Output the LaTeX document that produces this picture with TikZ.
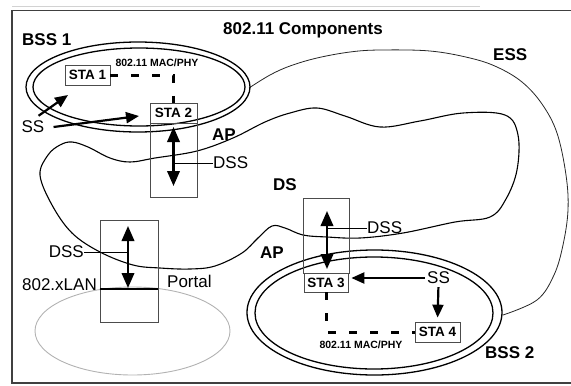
\documentclass[tikz,border=0pt]{standalone}
\usepackage{fontspec}
\setmainfont{Liberation Sans}
\usetikzlibrary{arrows.meta}
\tikzset{
  biglbl/.style={font=\fontsize{17}{19}\selectfont\bfseries, inner sep=0pt},
  lbl/.style={font=\fontsize{17}{19}\selectfont, inner sep=0pt},
  macphy/.style={font=\fontsize{10.5}{12}\selectfont\bfseries, inner sep=0pt},
  stabox/.style={draw=black!70, line width=0.7pt, minimum width=45pt, minimum height=20pt,
    inner sep=0pt, font=\fontsize{13.5}{15}\selectfont\bfseries},
  apbox/.style={draw=black!70, line width=0.7pt, minimum width=47pt, inner sep=0pt},
  bss/.style={line width=1.3pt},
  link/.style={line width=3pt, dash pattern=on 8pt off 13pt},
  tap/.style={line width=0.7pt},
  ssarrow/.style={line width=2.2pt, -{Triangle[length=13pt, width=11pt]}},
  dsarrow/.style={line width=2.2pt, {Triangle[length=15pt, width=12.5pt]}-{Triangle[length=15pt, width=12.5pt]}},
}
\begin{document}
\begin{tikzpicture}[x=1pt, y=-1pt]
  \useasboundingbox (0,0) rectangle (571,386);

  % frame
  \draw[gray!35, line width=1pt] (12,6.5) -- (480,6.5);
  \draw[black!75, line width=1.4pt] (571,10.5) -- (12,10.5) -- (12,383) -- (571,383);

  % 802.x LAN
  \draw[gray!60, line width=0.9pt] (132.5,331) ellipse [x radius=97.5, y radius=44];

  % distribution system
  \draw[line width=1.1pt] plot[smooth cycle, tension=0.6] coordinates {
    (40,175) (48,155) (60,145) (72,142) (88,147) (110,158) (130,162) (155,158)
    (197,151) (233,138) (265,122) (290,113) (317,108) (345,116) (380,127) (420,121)
    (463,113) (505,115) (518,135) (517,170) (506,199) (490,217) (455,222) (403,233)
    (360,238) (327,237) (303,235) (285,228) (272,226) (258,238) (242,253) (215,266)
    (190,269) (160,268) (133,265) (100,252) (72,233) (52,205)};

  % extended service set
  \draw[black!85, line width=0.8pt] plot[smooth, tension=0.6] coordinates {
    (249,88) (270,75) (290,66) (317,58) (350,52) (380,50) (430,51) (470,58)
    (497,67) (522,82) (542,104) (557,133) (566,175) (568,210) (563,245)
    (554,275) (537,300) (503,315)};

  % basic service sets
  \draw[bss] (138,87) ellipse [x radius=112, y radius=45];
  \draw[bss] (139,87) ellipse [x radius=106, y radius=39];
  \draw[bss] (374.5,312.5) ellipse [x radius=127.5, y radius=62.5];
  \draw[bss] (374,313) ellipse [x radius=119, y radius=56];

  % stations and access points
  \node[stabox] (sta1) at (87.5,75) {STA 1};
  \node[stabox, minimum width=47pt] (sta2) at (173.5,113) {STA 2};
  \node[apbox, minimum height=74pt] (ap1) at (173.5,160) {};
  \node[apbox, minimum width=46pt, minimum height=75pt] (ap3) at (326,235.5) {};
  \node[stabox, minimum width=44pt, minimum height=19pt] (sta3) at (326,282.5) {STA 3};
  \node[stabox] (sta4) at (437.5,332) {STA 4};
  \node[apbox, minimum width=58pt, minimum height=102pt] (portal) at (129,271) {};

  % MAC/PHY links
  \draw[link] (sta1.east) -- (sta1.east -| sta2.north) -- (sta2.north);
  \draw[link] (sta3.south) -- (sta3.south |- sta4.west) -- (sta4.west);
  \node[macphy] (mac1) at (157,63) {802.11 MAC/PHY};
  \node[macphy] (mac2) at (361,345) {802.11 MAC/PHY};

  % labels
  \node[biglbl] (title) at (303,30) {802.11 Components};
  \node[biglbl, anchor=west] (bss1) at (22,40) {BSS 1};
  \node[biglbl, anchor=west] (ess) at (493,55) {ESS};
  \node[biglbl, anchor=west] (aplbl1) at (212,135) {AP};
  \node[biglbl, anchor=west] (dslbl) at (273,185) {DS};
  \node[biglbl, anchor=west] (aplbl2) at (260,253) {AP};
  \node[biglbl, anchor=west] (bss2) at (485,353) {BSS 2};

  % station services
  \node[lbl] (ss1) at (33,127) {SS};
  \node[lbl] (ss2) at (438.5,278) {SS};
  \coordinate (sstip1) at (68,95);
  \coordinate (sstip2) at (139,116);
  \draw[ssarrow] ([xshift=-6pt, yshift=5pt]ss1.north east) -- (sstip1);
  \draw[ssarrow] ([xshift=9pt]ss1.east) -- (sstip2);
  \draw[ssarrow, shorten >=3pt] ([xshift=-2pt]ss2.west) -- (ss2.west -| sta3.east);
  \draw[ssarrow, shorten <=3pt, shorten >=4pt] (ss2.south) -- (sta4.north);

  % distribution system services
  \coordinate (dsa1) at (173.5,127);
  \coordinate (dsb1) at (173.5,186);
  \coordinate (dsa3) at (327,211);
  \coordinate (dsb3) at (327,269);
  \coordinate (dsap) at (128,226);
  \coordinate (dsbp) at (128,288);
  \draw[dsarrow] (dsa1) -- (dsb1);
  \draw[dsarrow] (dsa3) -- (dsb3);
  \draw[dsarrow] (dsap) -- (dsbp);
  \node[lbl, anchor=west] (dss1) at (213,163) {DSS};
  \node[lbl, anchor=west] (dss3) at (367,228) {DSS};
  \node[lbl, anchor=east] (dssp) at (84,252) {DSS};
  \draw[tap] (dsa1 |- dss1.west) -- (dss1.west);
  \draw[tap] (dsa3 |- dss3.west) -- (dss3.west);
  \draw[tap] (dssp.east) -- (dsap |- dssp.east);

  % portal
  \coordinate (lan) at (129,289);
  \draw[line width=2pt] (lan -| portal.west) -- (lan -| portal.east);
  \node[lbl, anchor=east] (lanlbl) at (97,285) {802.xLAN};
  \node[lbl, anchor=west] (portallbl) at (167,281) {Portal};

\end{tikzpicture}
\end{document}
